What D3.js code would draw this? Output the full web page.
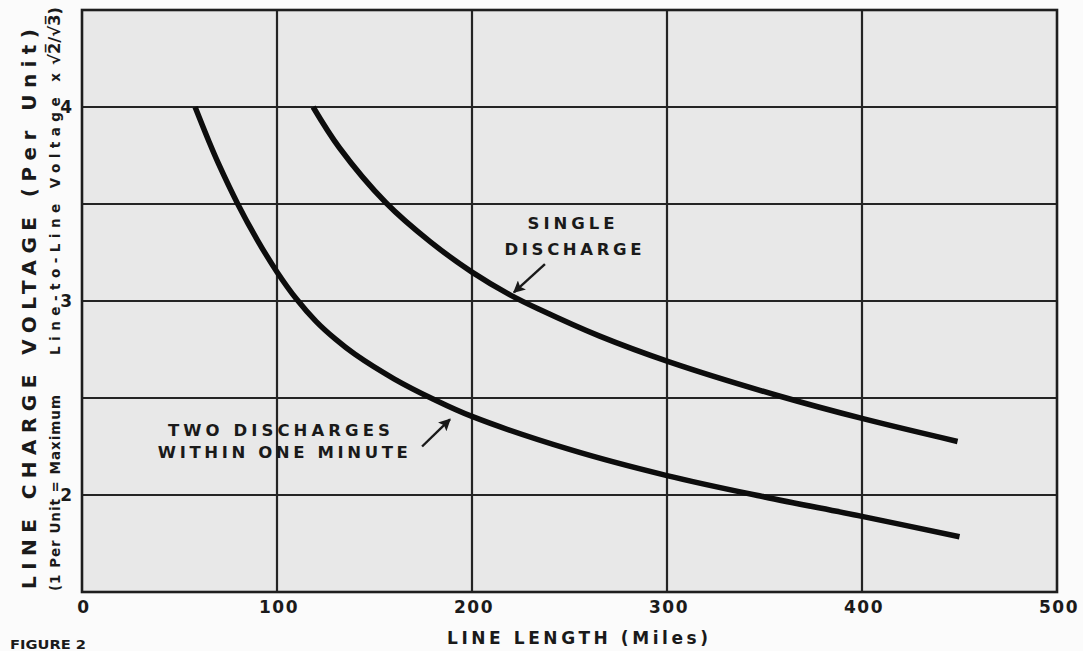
<!DOCTYPE html>
<html>
<head>
<meta charset="utf-8">
<script src="https://cdn.jsdelivr.net/npm/d3@7"></script>
<style>
  html, body { margin: 0; padding: 0; background: #fbfbfb; }
  svg { display: block; }
  text { font-family: "DejaVu Sans", "Liberation Sans", Arial, sans-serif; font-weight: bold; fill: #1a1a1a; }
</style>
</head>
<body>
<svg id="chart" width="1083" height="651"></svg>
<script>
// Line length in miles
const xTicks = [0, 100, 200, 300, 400, 500];
// Per-unit voltage ticks and grid lines
const yTicks = [2, 3, 4];
const yGrid = [2, 2.5, 3, 3.5, 4];

// Single discharge curve (miles, per-unit voltage)
const singleMiles = [118.5, 132, 156, 178.5, 200, 219.5, 235, 265.5, 301.5, 358, 401, 449];
const singleVolts = [4.0, 3.79, 3.505, 3.306, 3.149, 3.032, 2.955, 2.819, 2.685, 2.509, 2.392, 2.276];

// Two discharges within one minute
const twoMiles = [58, 65, 70, 80, 90, 100, 110, 120, 130, 140, 160, 180, 200, 250, 300, 350, 400, 450];
const twoVolts = [4.0, 3.825, 3.708, 3.498, 3.313, 3.15, 3.01, 2.895, 2.803, 2.725, 2.599, 2.495, 2.405, 2.235, 2.10, 1.99, 1.89, 1.785];

const svg = d3.select("#chart");
const plotLeft = 82, plotRight = 1057, plotTop = 10, plotBottom = 592;

const x = d3.scaleLinear().domain([0, 500]).range([plotLeft, plotRight]);
const y = d3.scaleLinear().domain([1.5, 4.5]).range([plotBottom, plotTop]);

// plot area
svg.append("rect")
  .attr("x", plotLeft).attr("y", plotTop)
  .attr("width", plotRight - plotLeft).attr("height", plotBottom - plotTop)
  .attr("fill", "#e8e8e8");

// grid
const grid = svg.append("g").attr("stroke", "#242424").attr("stroke-width", 2.2);
grid.selectAll("line.v").data(xTicks.slice(1, -1)).join("line")
  .attr("class", "v")
  .attr("x1", d => x(d)).attr("x2", d => x(d))
  .attr("y1", plotTop).attr("y2", plotBottom);
grid.selectAll("line.h").data(yGrid).join("line")
  .attr("class", "h")
  .attr("x1", plotLeft).attr("x2", plotRight)
  .attr("y1", d => y(d)).attr("y2", d => y(d));

// frame
svg.append("rect")
  .attr("x", plotLeft).attr("y", plotTop)
  .attr("width", plotRight - plotLeft).attr("height", plotBottom - plotTop)
  .attr("fill", "none").attr("stroke", "#1e1e1e").attr("stroke-width", 2.6);

// axes
const xAxis = svg.append("g")
  .attr("transform", `translate(0,${plotBottom})`)
  .call(d3.axisBottom(x).tickValues(xTicks).tickSize(0).tickPadding(7).tickFormat(d3.format("d")));
xAxis.select(".domain").remove();
xAxis.selectAll("text")
  .attr("font-size", 17).attr("letter-spacing", 1.5)
  .attr("font-family", "DejaVu Sans, sans-serif").attr("font-weight", "bold")
  .attr("fill", "#1a1a1a").attr("dy", "0.85em").attr("dx", 1.5);

const yAxis = svg.append("g")
  .attr("transform", `translate(${plotLeft},0)`)
  .call(d3.axisLeft(y).tickValues(yTicks).tickSize(0).tickPadding(10).tickFormat(d3.format("d")));
yAxis.select(".domain").remove();
yAxis.selectAll("text")
  .attr("font-size", 17)
  .attr("font-family", "DejaVu Sans, sans-serif").attr("font-weight", "bold")
  .attr("fill", "#1a1a1a");

// curves
const line = d3.line().x(d => x(d[0])).y(d => y(d[1])).curve(d3.curveCatmullRom.alpha(0.5));
const curves = [d3.zip(singleMiles, singleVolts), d3.zip(twoMiles, twoVolts)];
svg.selectAll("path.curve").data(curves).join("path")
  .attr("class", "curve")
  .attr("d", line)
  .attr("fill", "none").attr("stroke", "#0d0d0d")
  .attr("stroke-width", 5.5).attr("stroke-linecap", "butt");

// arrows
svg.append("defs").append("marker")
  .attr("id", "head").attr("viewBox", "0 0 10 10")
  .attr("refX", 9).attr("refY", 5)
  .attr("markerWidth", 6).attr("markerHeight", 5)
  .attr("markerUnits", "strokeWidth")
  .attr("orient", "auto")
  .append("path").attr("d", "M0,0 L10,5 L0,10 L2,5 Z").attr("fill", "#1a1a1a");

const arrows = [
  { from: [237.4, 3.19], to: [221.5, 3.045] },
  { from: [174.4, 2.25], to: [188.7, 2.39] }
];
svg.selectAll("line.arrow").data(arrows).join("line")
  .attr("class", "arrow")
  .attr("x1", d => x(d.from[0])).attr("y1", d => y(d.from[1]))
  .attr("x2", d => x(d.to[0])).attr("y2", d => y(d.to[1]))
  .attr("stroke", "#1a1a1a").attr("stroke-width", 2.4)
  .attr("marker-end", "url(#head)");

// curve labels
const labels = [
  { text: "SINGLE", at: [250.8, 3.40], w: 87 },
  { text: "DISCHARGE", at: [251.8, 3.27], w: 137 },
  { text: "TWO DISCHARGES", at: [101, 2.335], w: 222 },
  { text: "WITHIN ONE MINUTE", at: [103, 2.22], w: 250 }
];
svg.selectAll("text.lab").data(labels).join("text")
  .attr("class", "lab")
  .attr("x", d => x(d.at[0]) - d.w / 2).attr("y", d => y(d.at[1]))
  .attr("dy", "0.36em")
  .attr("font-size", 16.5)
  .attr("textLength", d => d.w).attr("lengthAdjust", "spacing")
  .text(d => d.text);

// axis titles
svg.append("text")
  .attr("x", 577 - 130).attr("y", 638).attr("dy", "0.36em")
  .attr("font-size", 17)
  .attr("textLength", 261).attr("lengthAdjust", "spacing")
  .text("LINE LENGTH (Miles)");

svg.append("text")
  .attr("transform", "translate(29,589) rotate(-90)")
  .attr("dy", "0.36em")
  .attr("font-size", 20)
  .attr("textLength", 560).attr("lengthAdjust", "spacing")
  .text("LINE CHARGE VOLTAGE (Per Unit)");

const sub = svg.append("text")
  .attr("transform", "translate(55,591) rotate(-90)")
  .attr("dy", "0.36em")
  .attr("font-size", 13.5);
sub.append("tspan").attr("x", 0).attr("textLength", 196).attr("lengthAdjust", "spacing").text("(1 Per Unit = Maximum");
sub.append("tspan").attr("x", 236).attr("textLength", 282).attr("lengthAdjust", "spacing").text("Line-to-Line Voltage x");
sub.append("tspan").attr("x", 526).attr("font-size", 15.5).attr("textLength", 58).attr("lengthAdjust", "spacingAndGlyphs").text("√2\u0305/√3\u0305)");

svg.append("text")
  .attr("x", 10).attr("y", 645).attr("dy", "0.36em")
  .attr("font-size", 11.5)
  .attr("textLength", 76).attr("lengthAdjust", "spacingAndGlyphs")
  .text("FIGURE 2");
</script>
</body>
</html>
